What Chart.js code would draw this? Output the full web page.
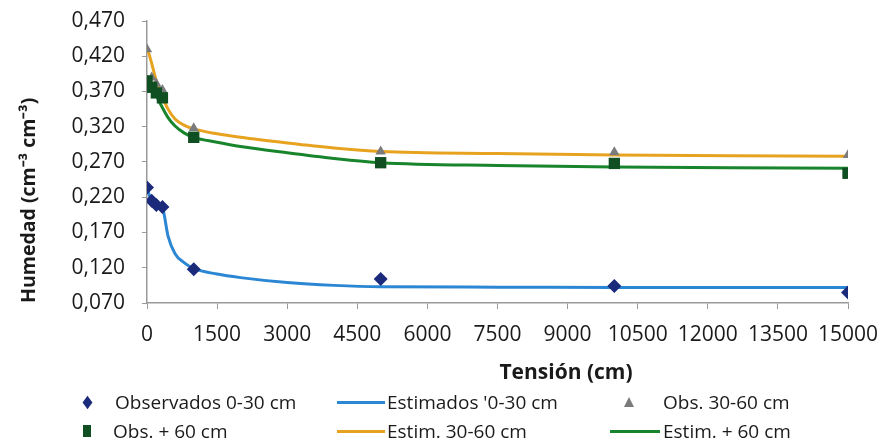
<!DOCTYPE html>
<html><head><meta charset="utf-8">
<script src="https://cdn.jsdelivr.net/npm/chart.js@4"></script>
<style>
html,body{margin:0;padding:0;background:#fff;}
#wrap{position:relative;width:881px;height:443px;}
#legend .item{position:absolute;height:24px;display:flex;align-items:center;font-family:"Open Sans",sans-serif;font-size:19px;color:#1a1a1a;white-space:nowrap;}
</style></head><body>
<div id="wrap"><canvas id="c" width="881" height="443"></canvas><div id="legend"></div></div>
<script>
// ---- data ----
const tensionObs = [0, 100, 200, 330, 1000, 5000, 10000, 15000];
const obs0_30   = [0.234, 0.215, 0.209, 0.206, 0.118, 0.104, 0.094, 0.085];
const obs30_60  = [0.430, 0.390, 0.381, 0.372, 0.318, 0.285, 0.284, 0.280];
const obs60     = [0.385, 0.376, 0.368, 0.361, 0.305, 0.269, 0.268, 0.254];

const tensionEst = [0, 100, 200, 330, 450, 600, 800, 1000, 1500, 2000, 3000, 4000, 5000, 7500, 10000, 12500, 15000];
const est0_30  = [0.232, 0.215, 0.210, 0.205, 0.165, 0.140, 0.127, 0.119, 0.111, 0.106, 0.099, 0.095, 0.093, 0.0925, 0.092, 0.092, 0.092];
const est30_60 = [0.433, 0.410, 0.385, 0.362, 0.345, 0.331, 0.322, 0.317, 0.310, 0.305, 0.297, 0.290, 0.285, 0.282, 0.280, 0.279, 0.278];
const est60    = [0.392, 0.381, 0.364, 0.347, 0.333, 0.321, 0.311, 0.305, 0.298, 0.292, 0.283, 0.275, 0.269, 0.265, 0.263, 0.262, 0.261];

const xTicks = [0, 1500, 3000, 4500, 6000, 7500, 9000, 10500, 12000, 13500, 15000];
const yTicks = [0.07, 0.12, 0.17, 0.22, 0.27, 0.32, 0.37, 0.42, 0.47];

const seriesLabels = ["Observados 0-30 cm", "Estimados '0-30 cm", "Obs. 30-60 cm", "Obs. + 60 cm", "Estim. 30-60 cm", "Estim. + 60 cm"];
const xTitle = "Tensión (cm)";
const yTitle = "Humedad (cm\u207B\u00B3 cm\u207B\u00B3)";

// ---- styles ----
const C = {diamond:'#1c2a7c', blue:'#2b87d3', tri:'#7b7b7b', square:'#0f4f22', orange:'#e7a31f', green:'#18852c', text:'#1a1a1a', axis:'#9a9a9a'};
const pts = (xs, ys) => xs.map((x, i) => ({x: x, y: ys[i]}));
const noPad = s => { s.paddingTop = 0; s.paddingBottom = 0; s.paddingLeft = 0; s.paddingRight = 0; };

// x-axis title placed where the reference has it (right of the plot centre)
const xTitlePlugin = {
  id: 'xTitlePlugin',
  afterDraw(chart) {
    const c = chart.ctx;
    c.save();
    c.font = 'bold 21px "Open Sans"';
    c.fillStyle = C.text;
    c.textAlign = 'center';
    c.textBaseline = 'middle';
    c.fillText(xTitle, 566, 373);
    c.restore();
  }
};

const ctx = document.getElementById('c').getContext('2d');
const chart = new Chart(ctx, {
  type: 'scatter',
  data: { datasets: [
    {label: seriesLabels[0], data: pts(tensionObs, obs0_30), showLine:false, pointStyle:'rectRot', pointRadius:7, backgroundColor:C.diamond, borderColor:C.diamond, borderWidth:0, order:0},
    {label: seriesLabels[1], data: pts(tensionEst, est0_30), showLine:true, borderColor:C.blue, borderWidth:3, pointRadius:0, cubicInterpolationMode:'monotone', order:2},
    {label: seriesLabels[2], data: pts(tensionObs, obs30_60), showLine:false, pointStyle:'triangle', pointRadius:6, backgroundColor:C.tri, borderColor:C.tri, borderWidth:0, order:1},
    {label: seriesLabels[3], data: pts(tensionObs, obs60), showLine:false, pointStyle:'rect', pointRadius:8, backgroundColor:C.square, borderColor:C.square, borderWidth:0, order:0},
    {label: seriesLabels[4], data: pts(tensionEst, est30_60), showLine:true, borderColor:C.orange, borderWidth:3, pointRadius:0, cubicInterpolationMode:'monotone', order:3},
    {label: seriesLabels[5], data: pts(tensionEst, est60), showLine:true, borderColor:C.green, borderWidth:3, pointRadius:0, cubicInterpolationMode:'monotone', order:2}
  ]},
  options: {
    responsive:false, animation:false,
    layout:{padding:{left:0, top:21, right:33, bottom:60}},
    plugins:{legend:{display:false}, tooltip:{enabled:false}},
    scales:{
      x:{
        type:'linear', min:0, max:15000,
        afterBuildTicks: s => { s.ticks = xTicks.map(v => ({value:v})); },
        afterFit: s => { s.height = 80; noPad(s); },
        grid:{drawOnChartArea:false, drawTicks:true, tickLength:6, color:C.axis},
        border:{display:true, color:C.axis, width:1.5},
        ticks:{padding:13, maxRotation:0, autoSkip:false, font:{family:'Open Sans', size:21}, color:C.text, callback: v => String(v)},
        title:{display:false}
      },
      y:{
        type:'linear', min:0.07, max:0.47,
        afterBuildTicks: s => { s.ticks = yTicks.map(v => ({value:v})); },
        afterFit: s => { s.width = 147; noPad(s); },
        grid:{drawOnChartArea:false, drawTicks:true, tickLength:5, color:C.axis},
        border:{display:true, color:C.axis, width:1.5},
        ticks:{padding:17, font:{family:'Open Sans', size:21}, color:C.text, callback: v => v.toFixed(3).replace('.', ',')},
        title:{display:true, text:yTitle, align:'start', font:{family:'Open Sans', size:19.5, weight:'bold'}, color:C.text, padding:{top:18, bottom:0}}
      }
    }
  },
  plugins:[xTitlePlugin]
});

// ---- HTML legend (grid as in reference) ----
const legendSpec = [
  {ds:0, kind:'diamond', left:82, top:390, gap:23},
  {ds:1, kind:'line', color:C.blue, left:337, top:390, gap:2, w:48},
  {ds:2, kind:'triangle', left:624, top:390, gap:29},
  {ds:3, kind:'square', left:82, top:419, gap:23},
  {ds:4, kind:'line', color:C.orange, left:337, top:419, gap:2, w:48},
  {ds:5, kind:'line', color:C.green, left:610, top:419, gap:3, w:50}
];
const leg = document.getElementById('legend');
legendSpec.forEach(s => {
  const it = document.createElement('div');
  it.className = 'item';
  it.style.left = s.left + 'px';
  it.style.top = s.top + 'px';
  const sym = document.createElement('span');
  sym.style.display = 'inline-block';
  sym.style.flex = '0 0 auto';
  sym.style.marginRight = s.gap + 'px';
  if (s.kind === 'line') {
    sym.style.width = s.w + 'px'; sym.style.height = '3px'; sym.style.background = s.color;
  } else if (s.kind === 'diamond') {
    const box = document.createElement('span');
    box.style.cssText = 'display:block;width:7px;height:7px;background:' + C.diamond + ';transform:scaleY(1.35) rotate(45deg);';
    sym.style.width = '10px'; sym.style.display = 'flex'; sym.style.justifyContent = 'center';
    sym.appendChild(box);
  } else if (s.kind === 'triangle') {
    sym.style.width = '0'; sym.style.height = '0';
    sym.style.borderLeft = '5px solid transparent'; sym.style.borderRight = '5px solid transparent';
    sym.style.borderBottom = '10px solid ' + C.tri;
  } else if (s.kind === 'square') {
    sym.style.width = '8px'; sym.style.height = '12px'; sym.style.background = C.square;
    sym.style.marginLeft = '1px'; sym.style.marginRight = (s.gap - 1) + 'px';
  }
  const txt = document.createElement('span');
  txt.textContent = chart.data.datasets[s.ds].label;
  it.appendChild(sym); it.appendChild(txt);
  leg.appendChild(it);
});
</script>
</body></html>
